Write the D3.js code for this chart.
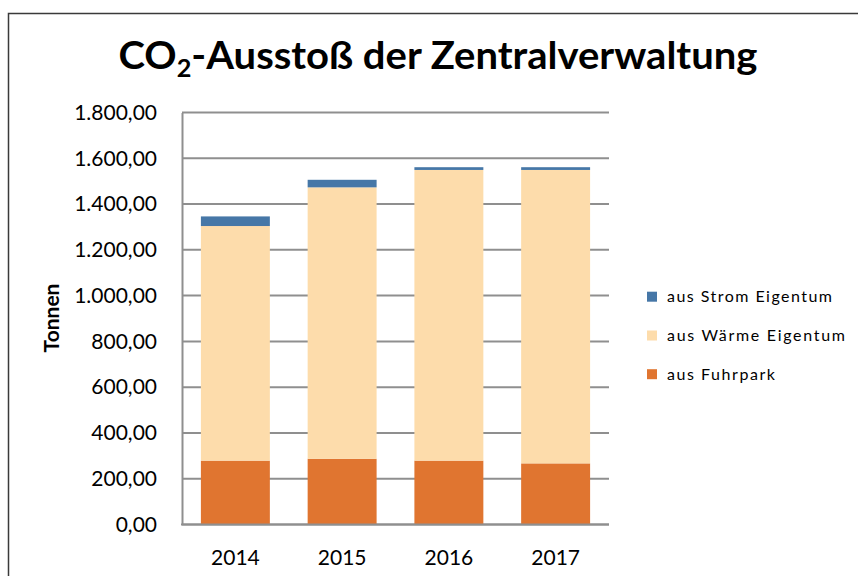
<!DOCTYPE html>
<html><head><meta charset="utf-8">
<script src="https://cdn.jsdelivr.net/npm/d3@7"></script>
<style>
html,body{margin:0;padding:0;background:#fff;}
svg{display:block;font-family:Lato,"Open Sans",sans-serif;}
</style></head>
<body>
<svg id="chart" width="858" height="576"></svg>
<script>
const years = ["2014", "2015", "2016", "2017"];
const fuhrpark = [279, 287, 279, 267];
const waerme = [1025, 1186, 1270, 1282];
const strom = [42, 33, 12, 12];
const seriesNames = ["aus Fuhrpark", "aus Wärme Eigentum", "aus Strom Eigentum"];
const seriesColors = ["#e07530", "#fddcab", "#4677a7"];
const yTicks = [0, 200, 400, 600, 800, 1000, 1200, 1400, 1600, 1800];

const svg = d3.select("#chart");
const W = 858, H = 576;
const plot = {left: 182, right: 609, top: 112.5, bottom: 524.5};

// frame
svg.append("rect").attr("x", 8.5).attr("y", 13.5).attr("width", W).attr("height", H)
  .attr("fill", "#fff").attr("stroke", "#3a3a3a").attr("stroke-width", 1.5);

const y = d3.scaleLinear().domain([0, 1800]).range([plot.bottom, plot.top]);
const x = d3.scaleBand().domain(years).range([plot.left, plot.right])
  .paddingInner(0.354).paddingOuter(0.177);

const de = d3.formatLocale({decimal: ",", thousands: ".", grouping: [3], currency: ["", " €"]});
const fmt = de.format(",.2f");

// gridlines
svg.append("g").selectAll("line").data(yTicks).join("line")
  .attr("x1", plot.left).attr("x2", plot.right)
  .attr("y1", d => y(d)).attr("y2", d => y(d))
  .attr("stroke", "#8f8f8f").attr("stroke-width", 2);

// y axis
const yAxis = d3.axisLeft(y).tickValues(yTicks).tickFormat(fmt).tickSize(0).tickPadding(25);
const gy = svg.append("g").attr("transform", `translate(${plot.left},0)`).call(yAxis);
gy.select(".domain").attr("stroke", "#8f8f8f").attr("stroke-width", 2);
gy.selectAll("text").attr("font-size", 21).attr("fill", "#000")
  .attr("font-family", "Lato, 'Open Sans', sans-serif");

// stacked bars
const table = years.map((yr, i) => ({year: yr, f: fuhrpark[i], w: waerme[i], s: strom[i]}));
const stack = d3.stack().keys(["f", "w", "s"])(table);
svg.append("g").selectAll("g").data(stack).join("g")
  .attr("fill", (d, i) => seriesColors[i])
  .selectAll("rect").data(d => d).join("rect")
  .attr("x", d => x(d.data.year))
  .attr("width", x.bandwidth())
  .attr("y", d => y(d[1]))
  .attr("height", d => y(d[0]) - y(d[1]));

// bottom axis line
svg.append("line").attr("x1", plot.left - 1).attr("x2", plot.right)
  .attr("y1", y(0)).attr("y2", y(0)).attr("stroke", "#8f8f8f").attr("stroke-width", 2);

// x axis labels
const xAxis = d3.axisBottom(x).tickSize(0).tickPadding(26);
const gx = svg.append("g").attr("transform", `translate(0,${plot.bottom})`).call(xAxis);
gx.select(".domain").remove();
gx.selectAll("text").attr("font-size", 21).attr("fill", "#000")
  .attr("font-family", "Lato, 'Open Sans', sans-serif");

// y axis title
svg.append("text").attr("transform", "translate(59,318) rotate(-90)")
  .attr("text-anchor", "middle").attr("font-weight", "bold").attr("font-size", 21)
  .attr("fill", "#000").text("Tonnen");

// title
const title = svg.append("text").attr("x", 118.5).attr("y", 68.5)
  .attr("font-weight", "bold").attr("font-size", 38).attr("fill", "#000")
  .attr("textLength", 639).attr("lengthAdjust", "spacingAndGlyphs");
title.append("tspan").text("CO");
title.append("tspan").attr("font-size", 24).attr("dy", 8).text("2");
title.append("tspan").attr("dy", -8).text("-Ausstoß der Zentralverwaltung");

// legend
const legendItems = [2, 1, 0];
const legendY = [296.7, 335.5, 374.2];
const legendLen = [165, 178, 108];
const lg = svg.append("g");
legendItems.forEach((si, k) => {
  lg.append("rect").attr("x", 647).attr("y", legendY[k] - 5).attr("width", 10).attr("height", 10)
    .attr("fill", seriesColors[si]);
  lg.append("text").attr("x", 667).attr("y", legendY[k]).attr("dy", "0.36em")
    .attr("font-size", 16).attr("fill", "#000")
    .attr("textLength", legendLen[k]).attr("lengthAdjust", "spacing")
    .text(seriesNames[si]);
});
</script>
</body></html>
